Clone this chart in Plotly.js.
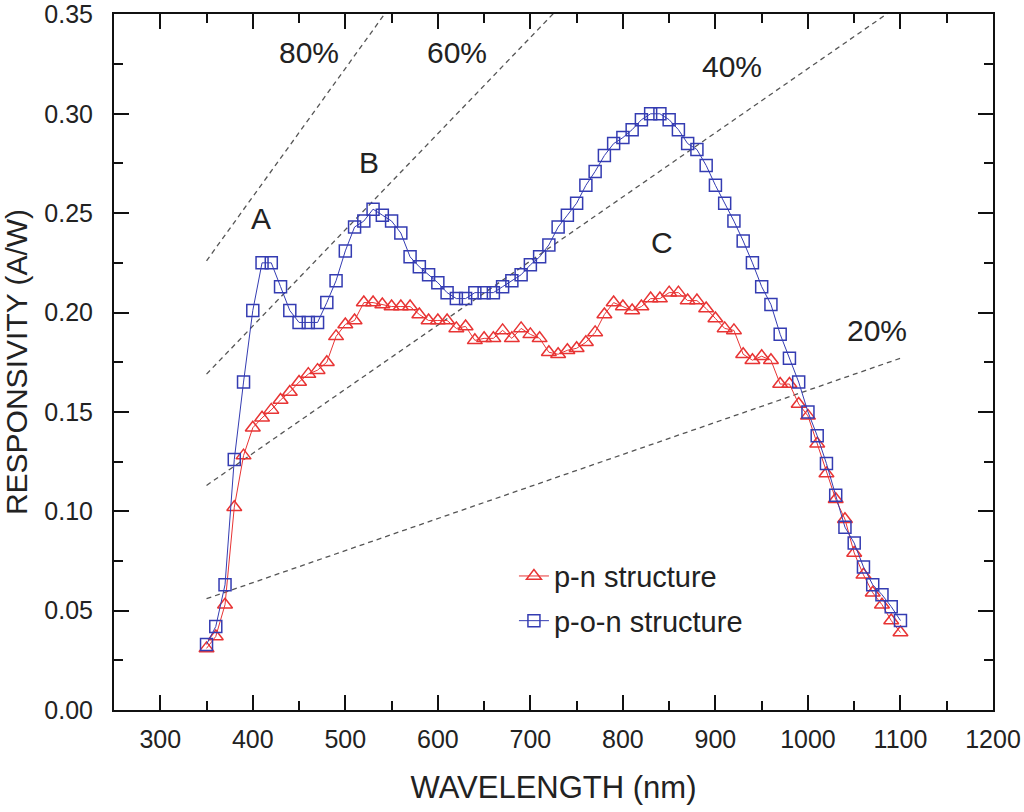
<!DOCTYPE html>
<html>
<head>
<meta charset="utf-8">
<script src="https://cdn.plot.ly/plotly-3.0.1.min.js"></script>
<style>
  body { margin: 0; background: #fff; }
  #graph { width: 1024px; height: 812px; }
</style>
</head>
<body>
<div id="graph"></div>
<script>
// wavelength (nm), same grid for both curves
var wavelength = [350,360,370,380,390,400,410,420,430,440,450,460,470,480,490,500,510,520,530,540,
  550,560,570,580,590,600,610,620,630,640,650,660,670,680,690,700,710,720,730,740,
  750,760,770,780,790,800,810,820,830,840,850,860,870,880,890,900,910,920,930,940,
  950,960,970,980,990,1000,1010,1020,1030,1040,1050,1060,1070,1080,1090,1100]

// p-n structure (A/W)
var pn = [0.031,0.037,0.053,0.102,0.128,0.142,0.147,0.151,0.156,0.160,0.165,0.169,0.171,0.175,0.188,0.194,0.196,0.205,0.205,0.204,
  0.203,0.203,0.203,0.199,0.196,0.196,0.196,0.192,0.193,0.186,0.187,0.187,0.191,0.187,0.192,0.189,0.187,0.180,0.179,0.181,
  0.182,0.185,0.190,0.199,0.205,0.203,0.201,0.203,0.207,0.207,0.210,0.210,0.206,0.206,0.202,0.197,0.192,0.191,0.179,0.176,
  0.178,0.176,0.164,0.164,0.154,0.148,0.134,0.119,0.106,0.096,0.079,0.068,0.059,0.053,0.045,0.039]

// p-o-n structure (A/W)
var pon = [0.033,0.042,0.063,0.126,0.165,0.201,0.225,0.225,0.213,0.201,0.195,0.195,0.195,0.205,0.216,0.231,0.243,0.246,0.252,0.249,
  0.246,0.240,0.228,0.223,0.219,0.215,0.210,0.207,0.207,0.210,0.210,0.210,0.213,0.216,0.219,0.224,0.228,0.234,0.243,0.249,
  0.255,0.264,0.271,0.279,0.285,0.288,0.292,0.297,0.300,0.300,0.297,0.292,0.285,0.282,0.274,0.264,0.255,0.246,0.236,0.225,
  0.213,0.204,0.189,0.177,0.165,0.150,0.138,0.124,0.108,0.092,0.084,0.072,0.063,0.058,0.052,0.045]

// y tick values
var yTicks = [0, 0.05, 0.10, 0.15, 0.20, 0.25, 0.30, 0.35]

// quantum efficiency guide lines, end points
var qeNames = ["80%","60%","40%","20%"]
var qeX = [350,1100]
var qeStart = [0.226,0.169,0.113,0.056]
var qeEnd = [0.710,0.532,0.355,0.177]

// text labels on the plot
var labelText = ["80%","60%","40%","20%","A","B","C"]
var labelX = [461,621,918,1075,409,526,842]
var labelY = [0.331,0.331,0.324,0.191,0.2475,0.2757,0.235]

var red = "rgb(232,52,52)"
var blue = "rgb(52,60,178)"
var fontName = "Liberation Sans, Arial, sans-serif"

var graphData = []

for (var i = 0; i < qeNames.length; i++) {
  graphData.push({
    x: qeX,
    y: [qeStart[i], qeEnd[i]],
    type: "scatter",
    mode: "lines",
    line: {color: "#555", width: 1.3, dash: "5px,4px"},
    showlegend: false,
    hoverinfo: "skip"
  })
}

graphData.push({
  x: wavelength,
  y: pn,
  type: "scatter",
  mode: "lines+markers",
  name: "p-n structure",
  legendgroup: "a",
  line: {color: red, width: 1},
  marker: {symbol: "triangle-up-open", size: 13, color: red, line: {width: 1.5}}
})

graphData.push({
  x: wavelength,
  y: pon,
  type: "scatter",
  mode: "lines+markers",
  name: "p-o-n structure",
  legendgroup: "b",
  line: {color: blue, width: 1},
  marker: {symbol: "square-open", size: 12, color: blue, line: {width: 1.5}}
})

var notes = []
for (var j = 0; j < labelText.length; j++) {
  notes.push({
    x: labelX[j], y: labelY[j], text: labelText[j],
    showarrow: false,
    font: {family: fontName, size: 30, color: "#222"}
  })
}

var layout = {
  width: 1024,
  height: 812,
  margin: {l: 114, r: 31, t: 14, b: 102},
  paper_bgcolor: "#fff",
  plot_bgcolor: "#fff",
  font: {family: fontName, color: "#222"},
  showlegend: true,
  legend: {
    x: 0.455, y: 0.229, xanchor: "left", yanchor: "top",
    bgcolor: "rgba(0,0,0,0)",
    font: {family: fontName, size: 29, color: "#222"},
    traceorder: "grouped",
    tracegroupgap: 4
  },
  xaxis: {
    range: [250, 1200],
    dtick: 100,
    tick0: 300,
    ticks: "inside",
    ticklen: 15,
    tickwidth: 2,
    tickcolor: "#111",
    showline: true,
    linewidth: 2,
    linecolor: "#111",
    mirror: "ticks",
    showgrid: false,
    zeroline: false,
    minor: {ticks: "inside", ticklen: 9, tickwidth: 2, dtick: 50, tickcolor: "#111", showgrid: false},
    tickfont: {family: fontName, size: 25, color: "#222"},
    ticklabelstandoff: 6,
    title: {text: "WAVELENGTH (nm)", font: {family: fontName, size: 31, color: "#222"}, standoff: 24}
  },
  yaxis: {
    range: [0, 0.3502],
    tickmode: "array",
    tickvals: yTicks,
    tickformat: ".2f",
    ticks: "inside",
    ticklen: 15,
    tickwidth: 2,
    tickcolor: "#111",
    showline: true,
    linewidth: 2,
    linecolor: "#111",
    mirror: "ticks",
    showgrid: false,
    zeroline: false,
    minor: {ticks: "inside", ticklen: 9, tickwidth: 2, dtick: 0.025, tickcolor: "#111", showgrid: false},
    tickfont: {family: fontName, size: 25, color: "#222"},
    ticklabelstandoff: 14,
    title: {text: "RESPONSIVITY (A/W)", font: {family: fontName, size: 30, color: "#222"}, standoff: 8}
  },
  annotations: notes
}

Plotly.newPlot("graph", graphData, layout, {staticPlot: true})
</script>
</body>
</html>
